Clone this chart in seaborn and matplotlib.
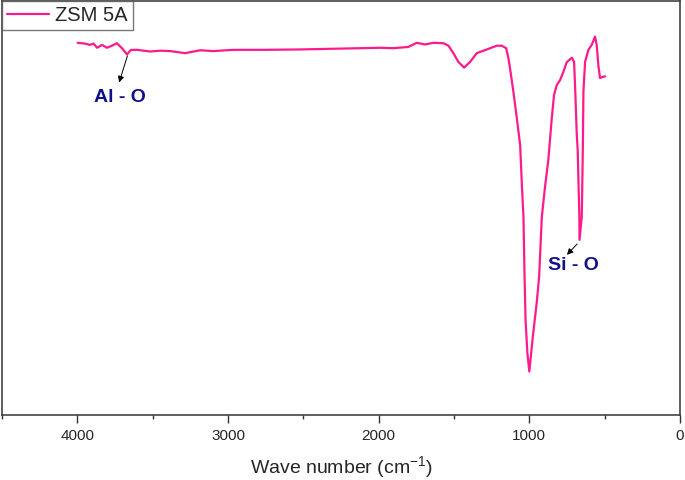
import matplotlib
matplotlib.use("Agg")
import matplotlib.pyplot as plt
import seaborn as sns
import pandas as pd
from matplotlib.ticker import MultipleLocator

sns.set_style("white")
plt.rcParams['font.family'] = ['Liberation Sans', 'DejaVu Sans']
plt.rcParams['mathtext.fontset'] = 'custom'
plt.rcParams['mathtext.rm'] = 'Liberation Sans'
plt.rcParams['mathtext.it'] = 'Liberation Sans:italic'
plt.rcParams['mathtext.bf'] = 'Liberation Sans:bold'

series_name = "ZSM 5A"
wavenumber = [3998, 3947, 3918, 3892, 3869, 3836, 3803, 3770, 3737, 3704, 3670,
              3644, 3604, 3516, 3449, 3383, 3284, 3184, 3098, 2965, 2766, 2521,
              2255, 1990, 1904, 1804, 1747, 1692, 1636, 1570, 1537, 1504, 1471,
              1433, 1393, 1349, 1282, 1216, 1183, 1154, 1139, 1128, 1106, 1083,
              1061, 1050, 1039, 1032, 1025, 1013, 1000, 977, 951, 935, 917, 896,
              874, 851, 836, 818, 796, 774, 752, 718, 703, 695, 685, 679, 668,
              667, 652, 645, 641, 630, 608, 586, 564, 553, 542, 531, 519, 497]
transmittance = [89.9, 89.7, 89.4, 89.7, 88.7, 89.4, 88.7, 89.2, 89.8, 88.6, 87.1,
                 88.2, 88.2, 87.8, 88.0, 87.9, 87.4, 88.1, 87.9, 88.2, 88.2, 88.3,
                 88.5, 88.7, 88.6, 88.9, 89.9, 89.5, 89.9, 89.8, 89.2, 87.4, 85.3,
                 83.9, 85.3, 87.4, 88.3, 89.2, 89.2, 88.6, 86.2, 83.7, 78.1, 71.7,
                 65.2, 56.0, 47.9, 34.0, 22.9, 15.0, 10.5, 18.9, 27.1, 33.4, 47.9, 55.1,
                 61.6, 71.7, 77.3, 79.7, 80.9, 82.9, 85.2, 86.3, 85.3, 78.1, 67.6, 64.0, 47.9,
                 42.3, 47.9, 64.0, 78.1, 85.3, 88.2, 89.4, 91.4, 89.4, 84.5, 81.4, 81.6, 81.8]
x_ticks = [4000, 3000, 2000, 1000, 0]
annotations = ["Al - O", "Si - O"]

df = pd.DataFrame({"wavenumber": wavenumber, "T": transmittance, "series": series_name})

fig = plt.figure(figsize=(6.85, 4.8), dpi=100)
ax = fig.add_axes([2/685, 65/480, 678/685, 414/480])

sns.lineplot(data=df, x="wavenumber", y="T", hue="series", palette=["#FF1A8C"],
             sort=False, estimator=None, lw=1.6, ax=ax)

ax.set_xlim(4500, 0)
ax.set_ylim(0, 100)
ax.set_xticks(x_ticks)
ax.xaxis.set_minor_locator(MultipleLocator(500))
ax.tick_params(axis='x', which='major', direction='out', length=6, width=1.0,
               color='#333333', labelsize=11, pad=4, bottom=True)
ax.tick_params(axis='x', which='minor', direction='out', length=3, width=1.0,
               color='#333333', bottom=True)
ax.set_yticks([])
ax.set_ylabel("")
ax.set_xlabel("Wave number (cm$^{-1}$)", fontsize=14, labelpad=8)
for s in ax.spines.values():
    s.set_visible(True)
    s.set_color('#333333')
    s.set_linewidth(1.1)

leg = ax.legend(loc='upper left', frameon=True, fancybox=False, borderaxespad=0,
                fontsize=14.5, handlelength=2.1, handletextpad=0.3, borderpad=0.25,
                title=None)
leg.get_frame().set_edgecolor('#555555')
leg.get_frame().set_linewidth(1.0)

txt_color = "#10108A"
ax.annotate("", xy=(3728, 79.7), xytext=(3662, 87.4),
            arrowprops=dict(arrowstyle='-|>', color='black', lw=0.7, mutation_scale=9))
ax.text(3718, 76.6, annotations[0], ha='center', va='center', fontsize=14,
        fontweight='bold', color=txt_color, family=['Liberation Sans', 'DejaVu Sans'])
ax.annotate("", xy=(763, 38.2), xytext=(670, 41.8),
            arrowprops=dict(arrowstyle='-|>', color='black', lw=0.7, mutation_scale=9))
ax.text(710, 36.0, annotations[1], ha='center', va='center', fontsize=14,
        fontweight='bold', color=txt_color, family=['Liberation Sans', 'DejaVu Sans'])

fig.savefig("out.png", dpi=100)
